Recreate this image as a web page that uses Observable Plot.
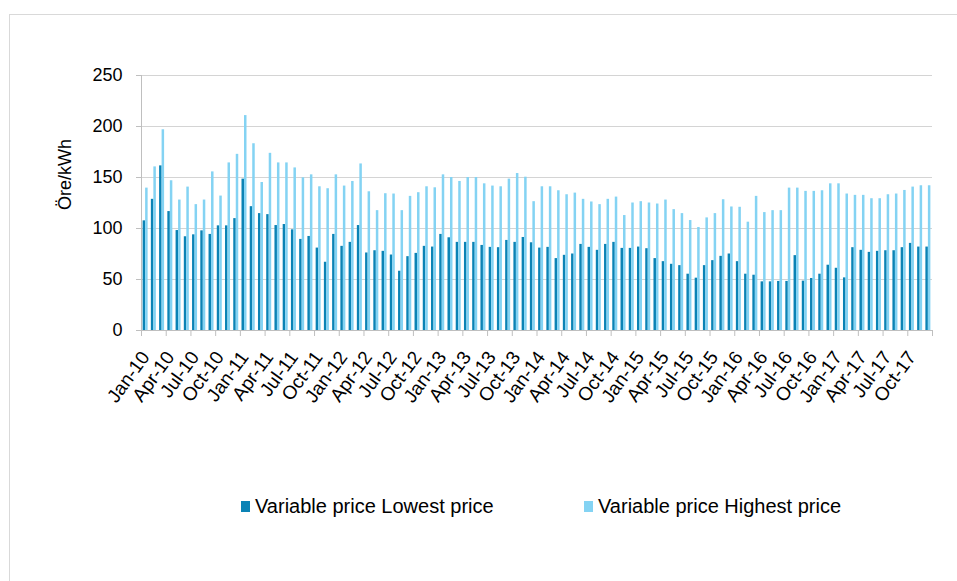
<!DOCTYPE html>
<html><head><meta charset="utf-8">
<script src="https://cdn.jsdelivr.net/npm/d3@7"></script>
<script src="https://cdn.jsdelivr.net/npm/@observablehq/plot@0.6"></script>
<style>
html,body{margin:0;padding:0;background:#fff;overflow:hidden;width:957px;height:581px}
#frame{position:absolute;left:9px;top:14px;width:1200px;height:1000px;border:1px solid #d9d9d9;}
#chart{position:absolute;left:0;top:0}
#legend{position:absolute;top:494px;left:0;width:957px;height:24px;font-family:"Liberation Sans",Arial,sans-serif;font-size:20px;color:#000}
.item{position:absolute;top:0;height:24px;display:flex;align-items:center;white-space:nowrap}
.sw{width:9px;height:11px;margin-right:5px}
</style></head>
<body>
<div id="frame"></div>
<div id="chart"></div>
<div id="legend"></div>
<script>
const years = ["10","11","12","13","14","15","16","17"];
const monthNames = ["Jan","Feb","Mar","Apr","May","Jun","Jul","Aug","Sep","Oct","Nov","Dec"];
const months = years.flatMap(y => monthNames.map(m => `${m}-${y}`));

const seriesNames = ["Variable price Lowest price", "Variable price Highest price"];

const lowest = [
  107.5,128.6,161.4,116.6,98,91.9,93.8,97.7,94.2,102.6,102.6,109.7,
  148.4,121.4,114.6,113.6,102.9,103.9,98.7,89.3,92.2,80.8,66.9,94.2,
  82.5,86.4,102.9,76,78.2,77.6,74,58.1,72.4,75.6,82.5,81.8,
  94.2,90.9,86.4,86.4,86.4,83.4,81.5,81.2,88.3,86.4,91.2,86,
  80.8,81.5,70.5,73.7,75,84.4,81.5,78.6,84.4,86.4,80.5,80.5,
  81.8,80.2,70.5,67.5,64.9,63.6,55.2,51.3,63.6,68.5,72.7,75,
  67.5,55.2,54.2,47.7,47.7,48.1,48.1,73.4,48.4,51,55.2,64,
  61,51.6,81.2,78.6,76.6,77.6,78.2,78.2,81.2,85.4,81.8,81.8
];
const highest = [
  139.6,160.4,196.8,146.8,127.9,140.6,123.4,127.9,155.5,131.8,164.3,172.7,
  210.7,183.1,145.1,173.7,164.3,164.3,159.4,149.7,152.6,140.9,139,152.6,
  141.6,146.1,163.3,136,117.5,134.1,133.8,117.5,131.5,135.1,140.9,139.9,
  152.6,150,146.1,150,150,143.8,141.6,140.9,148.4,153.9,150.3,126.3,
  140.9,140.9,137,133.1,134.7,128.6,126,123.4,128.6,130.8,112.7,125,
  126.3,125,124,127.9,118.5,114.6,107.8,101,110.4,114.6,128.2,121.1,
  120.8,106.2,131.5,115.6,117.5,117.5,139.6,139.6,136.4,136.4,137,143.8,
  143.8,133.8,132.5,132.5,129.2,129.2,133.1,133.8,137.3,140.6,141.9,141.9
];
const yTicks = [0, 50, 100, 150, 200, 250];
const labelMonths = months.filter((m, i) => i % 3 === 0);

const colors = ["#0b83b5", "#84d3f3"];
const rows = months.map((m, i) => ({month: m, low: lowest[i], high: highest[i]}));

const W = 957, H = 470, ML = 141, MR = 25, MT = 75, MB = H - 330;
const bw = (W - ML - MR) / months.length;
const barW = 2.5;
const axisColor = "#bfbfbf";

const chart = Plot.plot({
  width: W, height: H,
  marginLeft: ML, marginRight: MR, marginTop: MT, marginBottom: MB,
  style: {fontFamily: "'Liberation Sans', Arial, sans-serif", fontSize: "18px", color: "#000", background: "transparent", overflow: "visible"},
  x: {type: "band", domain: months, padding: 0, round: false, axis: null},
  y: {domain: [0, 250], axis: null},
  marks: [
    Plot.gridY(yTicks.filter(d => d > 0), {stroke: "#d4d4d4", strokeOpacity: 1}),
    Plot.barY(rows, {x: "month", y: "low", fill: colors[0], insetLeft: bw/2 - barW, insetRight: bw/2}),
    Plot.barY(rows, {x: "month", y: "high", fill: colors[1], insetLeft: bw/2, insetRight: bw/2 - barW}),
    Plot.ruleY([0], {stroke: axisColor}),
    Plot.barY([months[0]], {x: d => d, y1: 0, y2: 250, insetRight: bw - 1, fill: axisColor}),
    Plot.axisY({ticks: yTicks, tickSize: 5, tickPadding: 14, stroke: axisColor, label: null, fontSize: 18}),
    Plot.axisX({ticks: labelMonths, tickSize: 6, dx: -bw/2, stroke: axisColor, tickFormat: () => "", label: null}),
    Plot.axisX({ticks: [months[months.length - 1]], tickSize: 6, dx: bw/2, stroke: axisColor, tickFormat: () => "", label: null}),
    Plot.axisX({ticks: labelMonths, tickSize: 0, tickPadding: 23, tickRotate: -54, label: null, fontSize: 19}),
    Plot.text(["Öre/kWh"], {frameAnchor: "left", rotate: -90, dx: -76, dy: 7, fontSize: 18, fill: "#000"})
  ]
});
document.getElementById("chart").appendChild(chart);

const legend = document.getElementById("legend");
const pos = [241, 584];
seriesNames.forEach((name, i) => {
  const it = document.createElement("div");
  it.className = "item";
  it.style.left = pos[i] + "px";
  const sw = document.createElement("span");
  sw.className = "sw";
  sw.style.background = colors[i];
  const tx = document.createElement("span");
  tx.textContent = name;
  it.appendChild(sw); it.appendChild(tx);
  legend.appendChild(it);
});
</script>
</body></html>
